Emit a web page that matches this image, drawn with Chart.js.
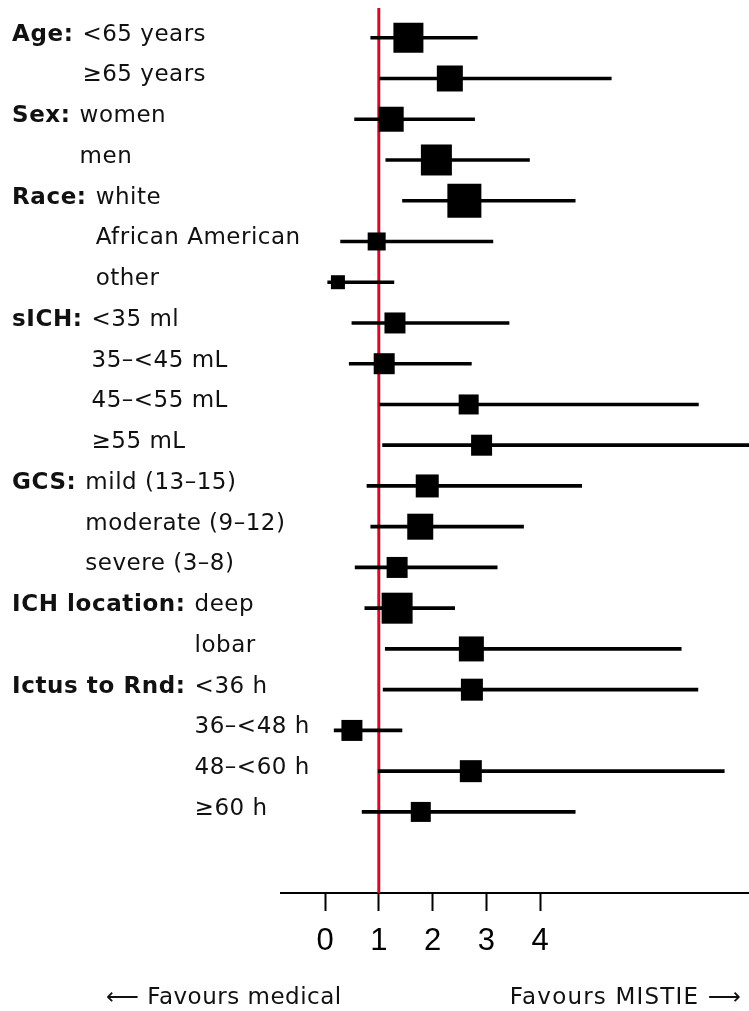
<!DOCTYPE html>
<html>
<head>
<meta charset="utf-8">
<script src="https://cdn.jsdelivr.net/npm/chart.js@4"></script>
<style>
  body { margin: 0; background: #fff; }
  canvas { display: block; }
</style>
</head>
<body>
<canvas id="forest" width="749" height="1011"></canvas>
<script>
// subgroups (top to bottom)
const groupNames = ['Age:', 'Sex:', 'Race:', 'sICH:', 'GCS:', 'ICH location:', 'Ictus to Rnd:'];
const rowGroups = [0, 0, 1, 1, 2, 2, 2, 3, 3, 3, 3, 4, 4, 4, 5, 5, 6, 6, 6, 6];
const rowLabels = ['<65 years', '≥65 years', 'women', 'men', 'white', 'African American', 'other',
  '<35 ml', '35–<45 mL', '45–<55 mL', '≥55 mL', 'mild (13–15)', 'moderate (9–12)', 'severe (3–8)',
  'deep', 'lobar', '<36 h', '36–<48 h', '48–<60 h', '≥60 h'];

// estimates + 95% CI
const estimates = [1.55, 2.32, 1.23, 2.07, 2.59, 0.96, 0.24, 1.30, 1.10, 2.67, 2.91, 1.90, 1.77, 1.34, 1.34, 2.72, 2.73, 0.50, 2.71, 1.78];
const ciLower = [0.85, 1.02, 0.55, 1.13, 1.44, 0.29, 0.05, 0.50, 0.45, 1.02, 1.07, 0.78, 0.85, 0.56, 0.74, 1.12, 1.08, 0.17, 0.99, 0.69];
const ciUpper = [2.83, 5.32, 2.78, 3.80, 4.65, 3.12, 1.28, 3.42, 2.72, 6.94, 8.20, 4.77, 3.69, 3.20, 2.41, 6.62, 6.93, 1.43, 7.42, 4.65];
// relative weight -> box size
const weights = [3.0, 2.6, 2.5, 3.1, 3.4, 1.8, 1.4, 2.1, 2.1, 2.0, 2.1, 2.3, 2.6, 2.1, 3.1, 2.5, 2.2, 2.1, 2.2, 2.0];

const xTicks = [0, 1, 2, 3, 4];
const nullValue = 1;
const leftNote = '⟵ Favours medical';
const rightNote = 'Favours MISTIE ⟶';

const labelFont = '"DejaVu Sans", Verdana, sans-serif';

const forestDecor = {
    id: 'forestDecor',
    beforeDatasetsDraw(chart) {
        const { ctx, chartArea, scales } = chart;
        const px = scales.x.getPixelForValue(nullValue);
        ctx.save();
        ctx.strokeStyle = '#c8102e';
        ctx.lineWidth = 3;
        ctx.beginPath();
        ctx.moveTo(px, chartArea.top);
        ctx.lineTo(px, chartArea.bottom);
        ctx.stroke();
        ctx.restore();
    },
    afterDraw(chart) {
        const { ctx, scales } = chart;
        const bold = () => { ctx.font = 'bold 23px ' + labelFont; ctx.letterSpacing = '0.6px'; };
        const plain = () => { ctx.font = '23px ' + labelFont; ctx.letterSpacing = '0.5px'; };
        ctx.save();
        ctx.fillStyle = '#111';
        ctx.textBaseline = 'alphabetic';
        ctx.textAlign = 'left';

        // where the sub labels start for each group
        bold();
        const subX = groupNames.map(g => 12 + ctx.measureText(g).width + 9);

        rowLabels.forEach((label, i) => {
            const y = scales.y.getPixelForValue(i) + 3;
            const g = rowGroups[i];
            if (i === 0 || rowGroups[i - 1] !== g) {
                bold();
                ctx.fillText(groupNames[g], 12, y);
            }
            plain();
            ctx.fillText(label, subX[g], y);
        });

        plain();
        ctx.fillText(leftNote, 106, 1004);
        ctx.textAlign = 'right';
        ctx.letterSpacing = '1.2px';
        ctx.fillText(rightNote, 742, 1004);
        ctx.restore();
    }
};

new Chart(document.getElementById('forest'), {
    type: 'bar',
    data: {
        datasets: [
            {
                type: 'bar',
                data: rowLabels.map((_, i) => ({ x: [ciLower[i], ciUpper[i]], y: i })),
                backgroundColor: '#000',
                borderWidth: 0,
                barThickness: 3,
                order: 2
            },
            {
                type: 'scatter',
                data: estimates.map((v, i) => ({ x: v, y: i })),
                pointStyle: 'rect',
                pointRadius: weights.map(w => w * 10 / Math.SQRT2),
                pointBackgroundColor: '#000',
                pointBorderWidth: 0,
                order: 1
            }
        ]
    },
    options: {
        indexAxis: 'y',
        responsive: false,
        animation: false,
        events: [],
        layout: { autoPadding: false, padding: { left: 281, right: 0, top: 8, bottom: 0 } },
        scales: {
            x: {
                type: 'linear',
                min: -0.818,
                max: 7.88,
                afterBuildTicks: s => { s.ticks = xTicks.map(v => ({ value: v })); },
                afterFit: s => { s.height = 118; },
                grid: { drawOnChartArea: false, drawTicks: true, tickLength: 18, tickWidth: 2, tickColor: '#000' },
                border: { display: true, color: '#000', width: 2 },
                ticks: { color: '#000', padding: 12, font: { family: 'Liberation Sans', size: 31 } }
            },
            y: {
                type: 'linear',
                reverse: true,
                offset: false,
                min: -0.73,
                max: 20.99,
                display: false
            }
        },
        plugins: { legend: { display: false }, tooltip: { enabled: false } }
    },
    plugins: [forestDecor]
});
</script>
</body>
</html>
